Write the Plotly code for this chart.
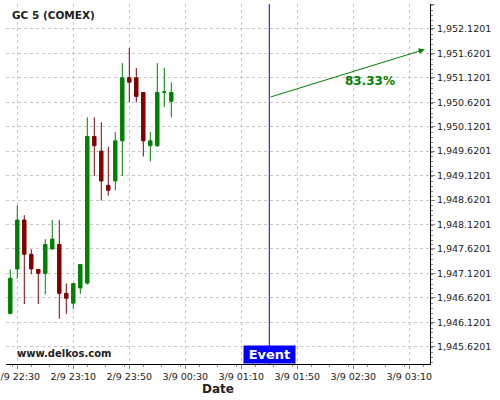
import plotly.graph_objects as go

# 5 minute candles, GC 5 (COMEX)
times = [
    "2023-09-02 22:25", "2023-09-02 22:30", "2023-09-02 22:35", "2023-09-02 22:40",
    "2023-09-02 22:45", "2023-09-02 22:50", "2023-09-02 22:55", "2023-09-02 23:00",
    "2023-09-02 23:05", "2023-09-02 23:10", "2023-09-02 23:15", "2023-09-02 23:20",
    "2023-09-02 23:25", "2023-09-02 23:30", "2023-09-02 23:35", "2023-09-02 23:40",
    "2023-09-02 23:45", "2023-09-02 23:50", "2023-09-02 23:55", "2023-09-03 00:00",
    "2023-09-03 00:05", "2023-09-03 00:10", "2023-09-03 00:15", "2023-09-03 00:20",
]
opens = [1946.30, 1947.21, 1948.21, 1947.51, 1947.20, 1947.12, 1947.62, 1947.71,
         1946.71, 1946.51, 1946.82, 1946.92, 1949.92, 1949.62, 1948.92, 1949.01,
         1949.83, 1951.12, 1951.12, 1950.82, 1949.73, 1949.73, 1950.82, 1950.64]
highs = [1947.20, 1948.51, 1948.31, 1947.61, 1947.20, 1947.82, 1948.21, 1948.21,
         1946.91, 1946.91, 1947.30, 1950.31, 1950.31, 1950.21, 1949.71, 1950.01,
         1951.42, 1951.73, 1951.32, 1950.82, 1950.01, 1951.42, 1951.32, 1951.02]
lows = [1946.28, 1947.01, 1946.49, 1947.10, 1946.49, 1946.69, 1947.60, 1946.19,
        1946.29, 1946.39, 1946.70, 1946.89, 1949.11, 1948.61, 1948.71, 1948.82,
        1949.11, 1950.62, 1950.62, 1949.51, 1949.41, 1949.71, 1950.52, 1950.31]
closes = [1947.02, 1948.21, 1947.51, 1947.21, 1947.12, 1947.71, 1947.82, 1946.71,
          1946.61, 1946.91, 1947.30, 1949.92, 1949.73, 1949.01, 1948.82, 1949.83,
          1951.12, 1951.03, 1950.74, 1949.83, 1949.83, 1950.82, 1950.83, 1950.82]

event_time = "2023-09-03 01:30"
arrow_start = ("2023-09-03 01:30", 1950.72)
arrow_end = ("2023-09-03 03:21", 1951.70)
label_pos = ("2023-09-03 02:42", 1951.06)
label_text = "83.33%"

x_range = ["2023-09-02 22:21:56", "2023-09-03 03:24:47"]
y_range = [1945.265, 1952.63]

green = "#008000"
red = "#800000"
grid_color = "#c8c8c8"
font_family = "DejaVu Sans"

fig = go.Figure(
    go.Candlestick(
        x=times,
        open=opens,
        high=highs,
        low=lows,
        close=closes,
        increasing=dict(line=dict(color=green, width=1), fillcolor=green),
        decreasing=dict(line=dict(color=red, width=1), fillcolor=red),
        whiskerwidth=0,
        hoverinfo="skip",
        showlegend=False,
    )
)

# event marker
fig.add_shape(
    type="line", xref="x", yref="paper",
    x0=event_time, x1=event_time, y0=0, y1=1,
    line=dict(color="#0000ff", width=1),
)

annotations = [
    # projection arrow
    dict(
        x=arrow_end[0], y=arrow_end[1], ax=arrow_start[0], ay=arrow_start[1],
        xref="x", yref="y", axref="x", ayref="y",
        showarrow=True, arrowhead=2, arrowsize=1.2, arrowwidth=1,
        arrowcolor=green, text="",
    ),
    dict(
        x=label_pos[0], y=label_pos[1], xref="x", yref="y",
        text="<b>" + label_text + "</b>", showarrow=False,
        font=dict(family=font_family, size=12, color=green),
    ),
    dict(
        x=event_time, y=0, xref="x", yref="paper", yanchor="bottom",
        text="<b>Event</b>", showarrow=False, bgcolor="#0000ff",
        width=49, borderpad=1,
        font=dict(family=font_family, size=13, color="white"),
    ),
    dict(
        x=0.0094, y=0.969, xref="paper", yref="paper",
        xanchor="left", yanchor="middle", showarrow=False,
        text="<b>GC 5 (COMEX)</b>",
        font=dict(family=font_family, size=10.5, color="#222"),
    ),
    dict(
        x=0.021, y=0.028, xref="paper", yref="paper",
        xanchor="left", yanchor="middle", showarrow=False,
        text="<b>www.delkos.com</b>",
        font=dict(family=font_family, size=10, color="#222"),
    ),
    dict(
        x=0.5, y=-0.069, xref="paper", yref="paper",
        xanchor="center", yanchor="middle", showarrow=False,
        text="<b>Date</b>",
        font=dict(family=font_family, size=12, color="#222"),
    ),
]

fig.update_layout(
    width=500,
    height=400,
    margin=dict(l=6, r=70, t=4, b=36, autoexpand=False),
    paper_bgcolor="white",
    plot_bgcolor="white",
    font=dict(family=font_family, size=9.5, color="#222"),
    annotations=annotations,
    showlegend=False,
    xaxis=dict(
        type="date",
        range=x_range,
        automargin=False,
        ticklabeloverflow="allow",
        rangeslider=dict(visible=False),
        tick0="2023-09-02 22:30",
        dtick=40 * 60 * 1000,
        tickformat="%-d/%-m %H:%M",
        showgrid=True,
        gridcolor=grid_color,
        griddash="3px,3px",
        gridwidth=1,
        showline=True,
        linecolor="black",
        linewidth=1,
        ticks="outside",
        ticklen=4,
        tickcolor="#888",
        minor=dict(dtick=40 * 60 * 1000 / 3, ticks="outside", ticklen=2,
                   tickcolor="#888", showgrid=False),
        zeroline=False,
    ),
    yaxis=dict(
        side="right",
        range=y_range,
        automargin=False,
        tick0=1945.6201,
        dtick=0.5,
        tickformat=",.4f",
        showgrid=True,
        gridcolor=grid_color,
        griddash="3px,3px",
        gridwidth=1,
        showline=True,
        linecolor="black",
        linewidth=1,
        ticks="outside",
        ticklen=4,
        tickcolor="#888",
        minor=dict(dtick=0.1, ticks="outside", ticklen=2,
                   tickcolor="#888", showgrid=False),
        zeroline=False,
    ),
)

# the page body has a default 8px margin; drop it so the chart sits at 0,0
fig.write_html(
    "out.html",
    config={"displayModeBar": False},
    post_script="document.body.style.margin='0';",
)
